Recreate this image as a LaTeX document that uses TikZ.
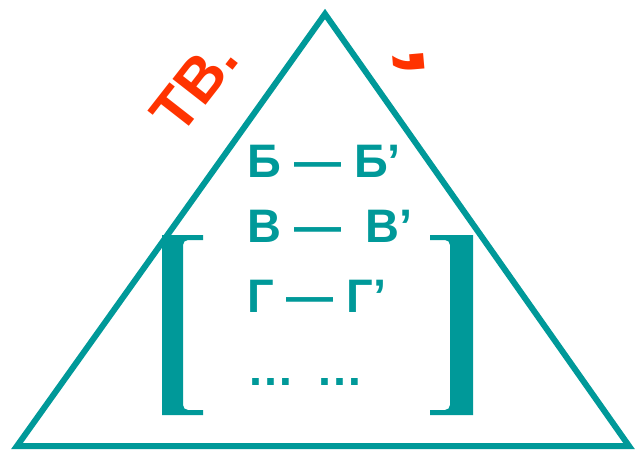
\documentclass[tikz,border=0pt]{standalone}
\usepackage{fontspec}
\newfontfamily\arialfont{Liberation Sans}
\usetikzlibrary{positioning}
\definecolor{triTeal}{HTML}{009999}
\definecolor{triRed}{HTML}{FF3300}

\begin{document}
\begin{tikzpicture}[x=1pt, y=-1pt,
    pairline/.style={anchor=base west, inner sep=0pt, text=triTeal,
                     font=\arialfont\bfseries\fontsize{47}{47}\selectfont},
    tilted/.style={inner sep=0pt, text=triRed,
                   font=\arialfont\bfseries\fontsize{61}{61}\selectfont},
    bracket/.style={fill=triTeal, draw=none},
  ]
    \useasboundingbox (0,0) rectangle (637,452);

    % triangle
    \coordinate (apex) at (325,14);
    \coordinate (bl) at (17,446);
    \coordinate (br) at (629,446);
    \draw[triTeal, line width=6pt, line join=miter] (apex) -- (br) -- (bl) -- cycle;

    % red labels on the left side
    \node[tilted, rotate=52] (tv) at (194,86) {ТВ.};
    \node[tilted, font=\arialfont\bfseries\fontsize{110}{110}\selectfont,
          anchor=base, rotate=-85] (comma) at (349,68) {’};

    % pairs
    \node[pairline] (p1) at (247,177) {Б — Б’};
    \node[pairline] (p2) at (247,242) {В —\hspace{0.25em} В’};
    \node[pairline] (p3) at (247,312) {Г — Г’};
    \node[pairline] (p4) at (247,385) {…\hspace{0.2em} …};

    % brackets
    \path[bracket] (162,235) -- (203,235) -- (203,240) -- (188,240)
      to[out=180, in=90] (183,245) -- (183,405) to[out=-90, in=180] (188,410)
      -- (203,410) -- (203,415) -- (162,415) -- cycle;
    \path[bracket] (473,235) -- (430,235) -- (430,240) -- (445,240)
      to[out=0, in=90] (450,245) -- (450,405) to[out=-90, in=0] (445,410)
      -- (430,410) -- (430,415) -- (473,415) -- cycle;
  \end{tikzpicture}
\end{document}
